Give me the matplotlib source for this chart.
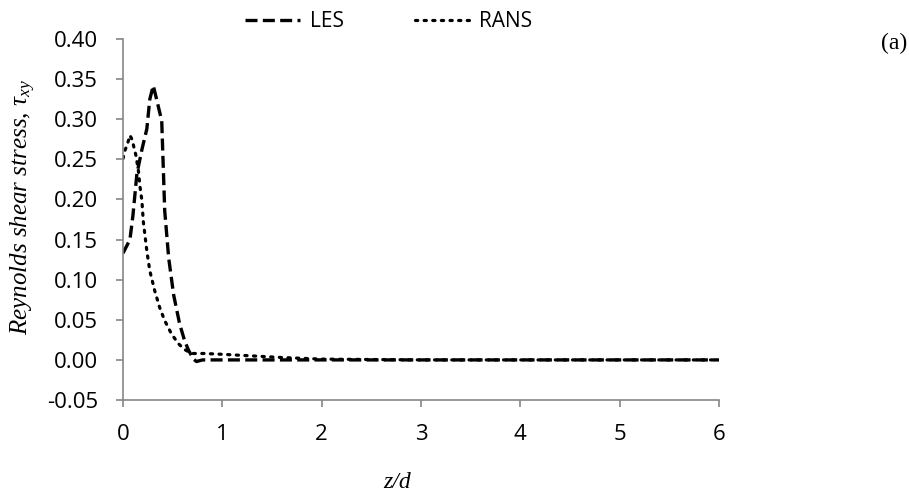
# Reynolds shear stress profile, LES vs RANS, panel (a)
import matplotlib
matplotlib.use('Agg')
import matplotlib.pyplot as plt

plt.rcParams['mathtext.fontset'] = 'custom'
plt.rcParams['mathtext.it'] = 'Liberation Serif:italic'
plt.rcParams['mathtext.rm'] = 'Liberation Serif'

# LES (dashed)
les_z = [0.0, 0.07, 0.10, 0.14, 0.19, 0.24, 0.27, 0.305, 0.34, 0.39, 0.42,
         0.46, 0.51, 0.57, 0.62, 0.66, 0.71, 0.74, 0.80, 1.0, 2.0, 3.0, 4.0, 5.0, 6.0]
les_tau = [0.133, 0.150, 0.180, 0.232, 0.262, 0.288, 0.325, 0.342, 0.324, 0.298, 0.186,
           0.127, 0.081, 0.045, 0.024, 0.012, 0.001, -0.002, 0.0, 0.0, 0.0, 0.0, 0.0, 0.0, 0.0]

# RANS (dotted)
rans_z = [0.0, 0.02, 0.047, 0.07, 0.094, 0.11, 0.13, 0.155, 0.17, 0.19, 0.205,
          0.24, 0.27, 0.32, 0.37, 0.42, 0.49, 0.56, 0.62, 0.69, 0.82, 1.0, 1.3,
          1.6, 2.0, 3.0, 4.0, 5.0, 6.0]
rans_tau = [0.251, 0.261, 0.270, 0.280, 0.274, 0.265, 0.255, 0.236, 0.217, 0.199, 0.172,
            0.136, 0.111, 0.086, 0.065, 0.049, 0.032, 0.020, 0.013, 0.008, 0.008, 0.007, 0.005,
            0.003, 0.001, 0.0, 0.0, 0.0, 0.0]

x_ticks = [0, 1, 2, 3, 4, 5, 6]
y_ticks = [-0.05, 0.00, 0.05, 0.10, 0.15, 0.20, 0.25, 0.30, 0.35, 0.40]

tick_font = 'Open Sans'
serif = 'Liberation Serif'
grey = '#868686'

fig = plt.figure(figsize=(9.09, 4.96), dpi=100)
ax = fig.add_axes([0.1353, 0.1935, 0.6557, 0.7278])

ax.plot(les_z, les_tau, color='black', lw=2.4, linestyle=(0, (3.6, 1.6)), label='LES')
ax.plot(rans_z, rans_tau, color='black', lw=2.3, linestyle=(0, (0.7, 2.0)),
        dash_capstyle='round', label='RANS')

ax.set_xlim(0, 6)
ax.set_ylim(-0.05, 0.40)
ax.set_xticks(x_ticks)
ax.set_yticks(y_ticks)
ax.set_xticklabels([str(v) for v in x_ticks], fontfamily=tick_font, fontsize=16)
ax.set_yticklabels(['%.2f' % v for v in y_ticks], fontfamily=tick_font, fontsize=16)

for s in ['top', 'right']:
    ax.spines[s].set_visible(False)
for s in ['left', 'bottom']:
    ax.spines[s].set_color(grey)
    ax.spines[s].set_linewidth(1.2)
ax.tick_params(axis='both', colors=grey, length=5, width=1.2, labelcolor='black')
ax.tick_params(axis='y', pad=13)
ax.tick_params(axis='x', pad=12)

ax.set_ylabel(r'Reynolds shear stress, $\tau_{xy}$', fontfamily=serif, fontstyle='italic',
              fontsize=18)
ax.yaxis.set_label_coords(-0.143, 0.535)

fig.text(397 / 909, 1 - 483 / 496, 'z/d', fontfamily=serif, fontstyle='italic', fontsize=17,
         ha='center', va='center')
fig.text(0.998, 0.913, '(a)', fontfamily=serif, fontsize=17, ha='right', va='center')

fig.legend(loc='center', bbox_to_anchor=(0.428, 0.956), ncol=2, frameon=False,
           prop={'family': tick_font, 'size': 15}, handlelength=2.6,
           handletextpad=0.5, columnspacing=3.4)

fig.savefig('out.png', dpi=100)
